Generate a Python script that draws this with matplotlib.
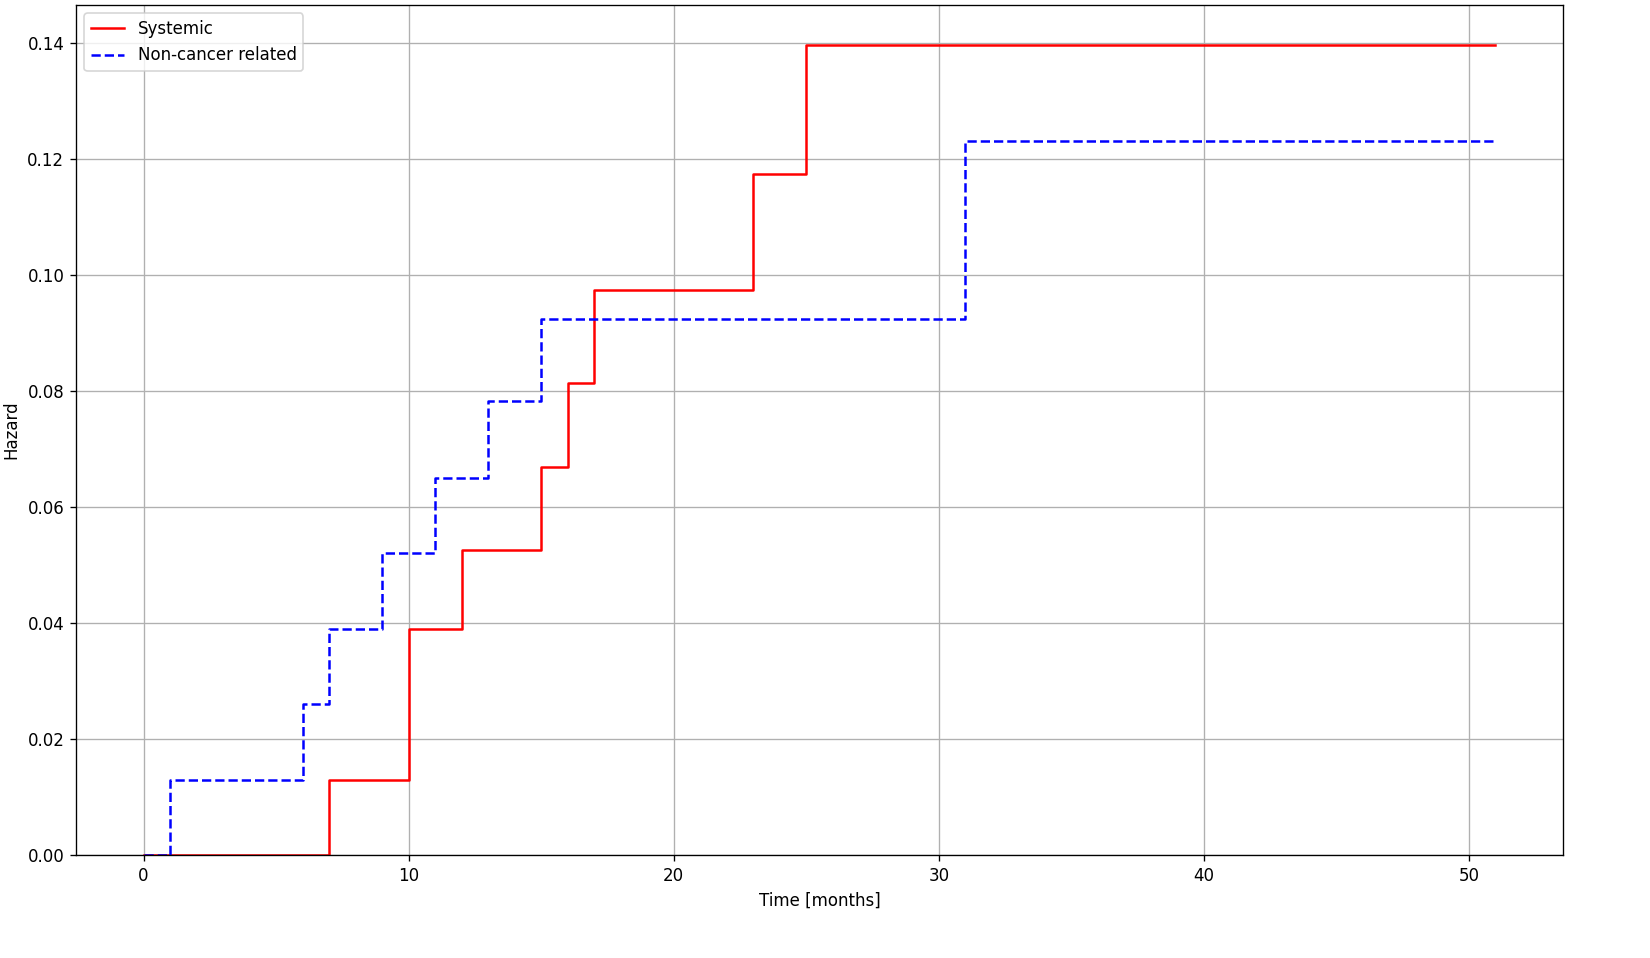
import matplotlib
matplotlib.use("Agg")
import matplotlib.pyplot as plt

# Systemic cumulative hazard (step, post)
sys_time = [0, 7, 10, 12, 15, 16, 17, 23, 25, 51]
sys_haz = [0.0, 0.013, 0.039, 0.0525, 0.0668, 0.0813, 0.0973, 0.1173, 0.1395, 0.1395]

# Non-cancer related cumulative hazard (step, post)
nc_time = [0, 1, 6, 7, 9, 11, 13, 15, 31, 51]
nc_haz = [0.0, 0.013, 0.026, 0.039, 0.052, 0.065, 0.0783, 0.0923, 0.123, 0.123]

DPI = 120
fig = plt.figure(figsize=(1650 / DPI, 958 / DPI), dpi=DPI)
ax = fig.add_axes([76 / 1650, 1 - 855 / 958, (1563 - 76) / 1650, (855 - 5) / 958])

ax.step(sys_time, sys_haz, where="post", color="red", linestyle="-", label="Systemic")
ax.step(nc_time, nc_haz, where="post", color="blue", linestyle="--", label="Non-cancer related")

ax.set_ylim(bottom=0)
ax.set_xlabel("Time [months]")
ax.set_ylabel("Hazard")
ax.grid(True)
ax.legend(loc="upper left")

fig.savefig("out.png", dpi=DPI)
